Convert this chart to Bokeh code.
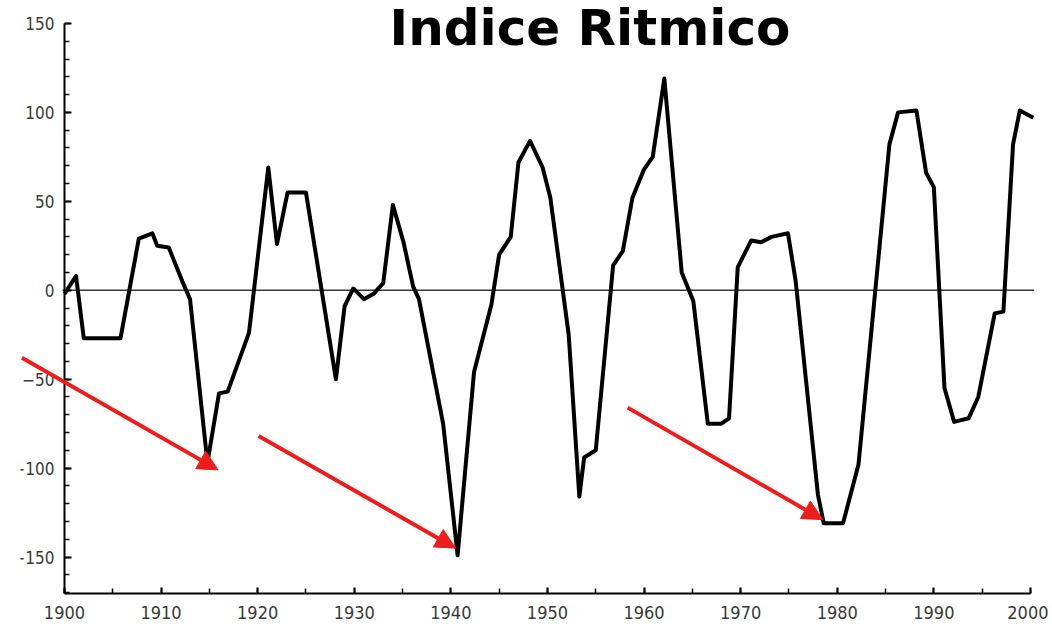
from bokeh.plotting import figure
from bokeh.models import Range1d, SingleIntervalTicker, Arrow, NormalHead, Label
from bokeh.embed import file_html
from bokeh.resources import INLINE

# ---- data ----
years = [1900.0, 1901.2, 1902.0, 1905.8, 1907.7, 1909.1, 1909.6, 1910.8, 1912.2, 1913.0,
         1914.8, 1916.0, 1916.9, 1919.1, 1921.1, 1922.0, 1923.1, 1925.0, 1928.1, 1929.0,
         1929.9, 1931.0, 1932.0, 1933.0, 1934.0, 1935.1, 1936.1, 1936.7, 1939.2, 1940.7,
         1942.4, 1944.2, 1945.0, 1946.2, 1947.0, 1948.2, 1949.5, 1950.3, 1952.2, 1953.3,
         1953.8, 1955.0, 1956.8, 1957.8, 1958.8, 1960.0, 1960.9, 1962.1, 1963.9, 1965.1,
         1966.6, 1968.0, 1968.8, 1969.7, 1971.1, 1972.1, 1973.2, 1974.9, 1975.7, 1978.0,
         1978.6, 1980.6, 1982.2, 1985.4, 1986.3, 1988.2, 1989.2, 1990.0, 1991.1, 1992.1,
         1993.6, 1994.6, 1996.3, 1997.2, 1998.2, 1998.9, 2000.3]
index_values = [-2, 8, -27, -27, 29, 32, 25, 24, 5, -5,
                -97, -58, -57, -24, 69, 26, 55, 55, -50, -9,
                1, -5, -2, 4, 48, 27, 2, -5, -75, -149,
                -46, -8, 20, 30, 72, 84, 69, 52, -25, -116,
                -94, -90, 14, 22, 52, 68, 75, 119, 10, -6,
                -75, -75, -72, 13, 28, 27, 30, 32, 5, -115,
                -131, -131, -98, 82, 100, 101, 66, 58, -55, -74,
                -72, -60, -13, -12, 82, 101, 97]

title_text = "Indice Ritmico"

# zero reference line (years)
zero_x = [1899.8, 2000.4]
zero_y = [0, 0]

# red arrows (start -> tip), in data coordinates
arrow_x0 = [1895.6, 1920.1, 1958.3]
arrow_y0 = [-38, -82, -66]
arrow_x1 = [1915.9, 1940.5, 1978.5]
arrow_y1 = [-101, -145, -129]

label_font = "DejaVu Sans Condensed"
label_color = "#3a3a3a"
red = "#ee1c1c"

p = figure(width=1048, height=634,
           x_range=Range1d(1895.45, 2000.42), y_range=Range1d(-170.5, 162.9),
           output_backend="svg", toolbar_location=None,
           min_border_left=20, min_border_right=14,
           min_border_top=0, min_border_bottom=41)
p.background_fill_color = "white"
p.border_fill_color = "white"
p.outline_line_color = None
p.xgrid.visible = False
p.ygrid.visible = False

# x axis
p.xaxis.bounds = (1900, 2000)
p.xaxis.ticker = SingleIntervalTicker(interval=10, num_minor_ticks=2)
p.xaxis.axis_line_color = "black"
p.xaxis.axis_line_width = 2
p.xaxis.major_tick_in = 6
p.xaxis.major_tick_out = 0
p.xaxis.minor_tick_in = 5
p.xaxis.minor_tick_out = 0
p.xaxis.major_tick_line_width = 2
p.xaxis.minor_tick_line_width = 1.5
p.xaxis.major_label_text_font = label_font
p.xaxis.major_label_text_font_size = "18px"
p.xaxis.major_label_text_color = label_color
p.xaxis.major_label_standoff = 12

# y axis, fixed at 1900 so the arrow may run left of it
p.yaxis.fixed_location = 1900
p.yaxis.bounds = (-170.5, 150)
p.yaxis.ticker = SingleIntervalTicker(interval=50, num_minor_ticks=5)
p.yaxis.axis_line_color = "black"
p.yaxis.axis_line_width = 2
p.yaxis.major_tick_in = 7
p.yaxis.major_tick_out = 0
p.yaxis.minor_tick_in = 5
p.yaxis.minor_tick_out = 0
p.yaxis.major_tick_line_width = 2
p.yaxis.minor_tick_line_width = 1.5
p.yaxis.major_label_text_font = label_font
p.yaxis.major_label_text_font_size = "17px"
p.yaxis.major_label_text_color = label_color
p.yaxis.major_label_standoff = 10

# zero line
p.line(zero_x, zero_y, line_color="#3a3a3a", line_width=1.5)

# curve
p.line(years, index_values, line_color="black", line_width=4, line_join="round")

# arrows
for x0, y0, x1, y1 in zip(arrow_x0, arrow_y0, arrow_x1, arrow_y1):
    p.add_layout(Arrow(end=NormalHead(size=20, fill_color=red, line_color=red),
                       x_start=x0, y_start=y0, x_end=x1, y_end=y1,
                       line_color=red, line_width=4))

# title
p.add_layout(Label(x=1954.4, y=147.6, text=title_text, text_align="center",
                   text_baseline="alphabetic", text_font="DejaVu Sans",
                   text_font_style="bold", text_font_size="50px", text_color="black"))

open("out.html", "w").write(file_html(p, INLINE))
